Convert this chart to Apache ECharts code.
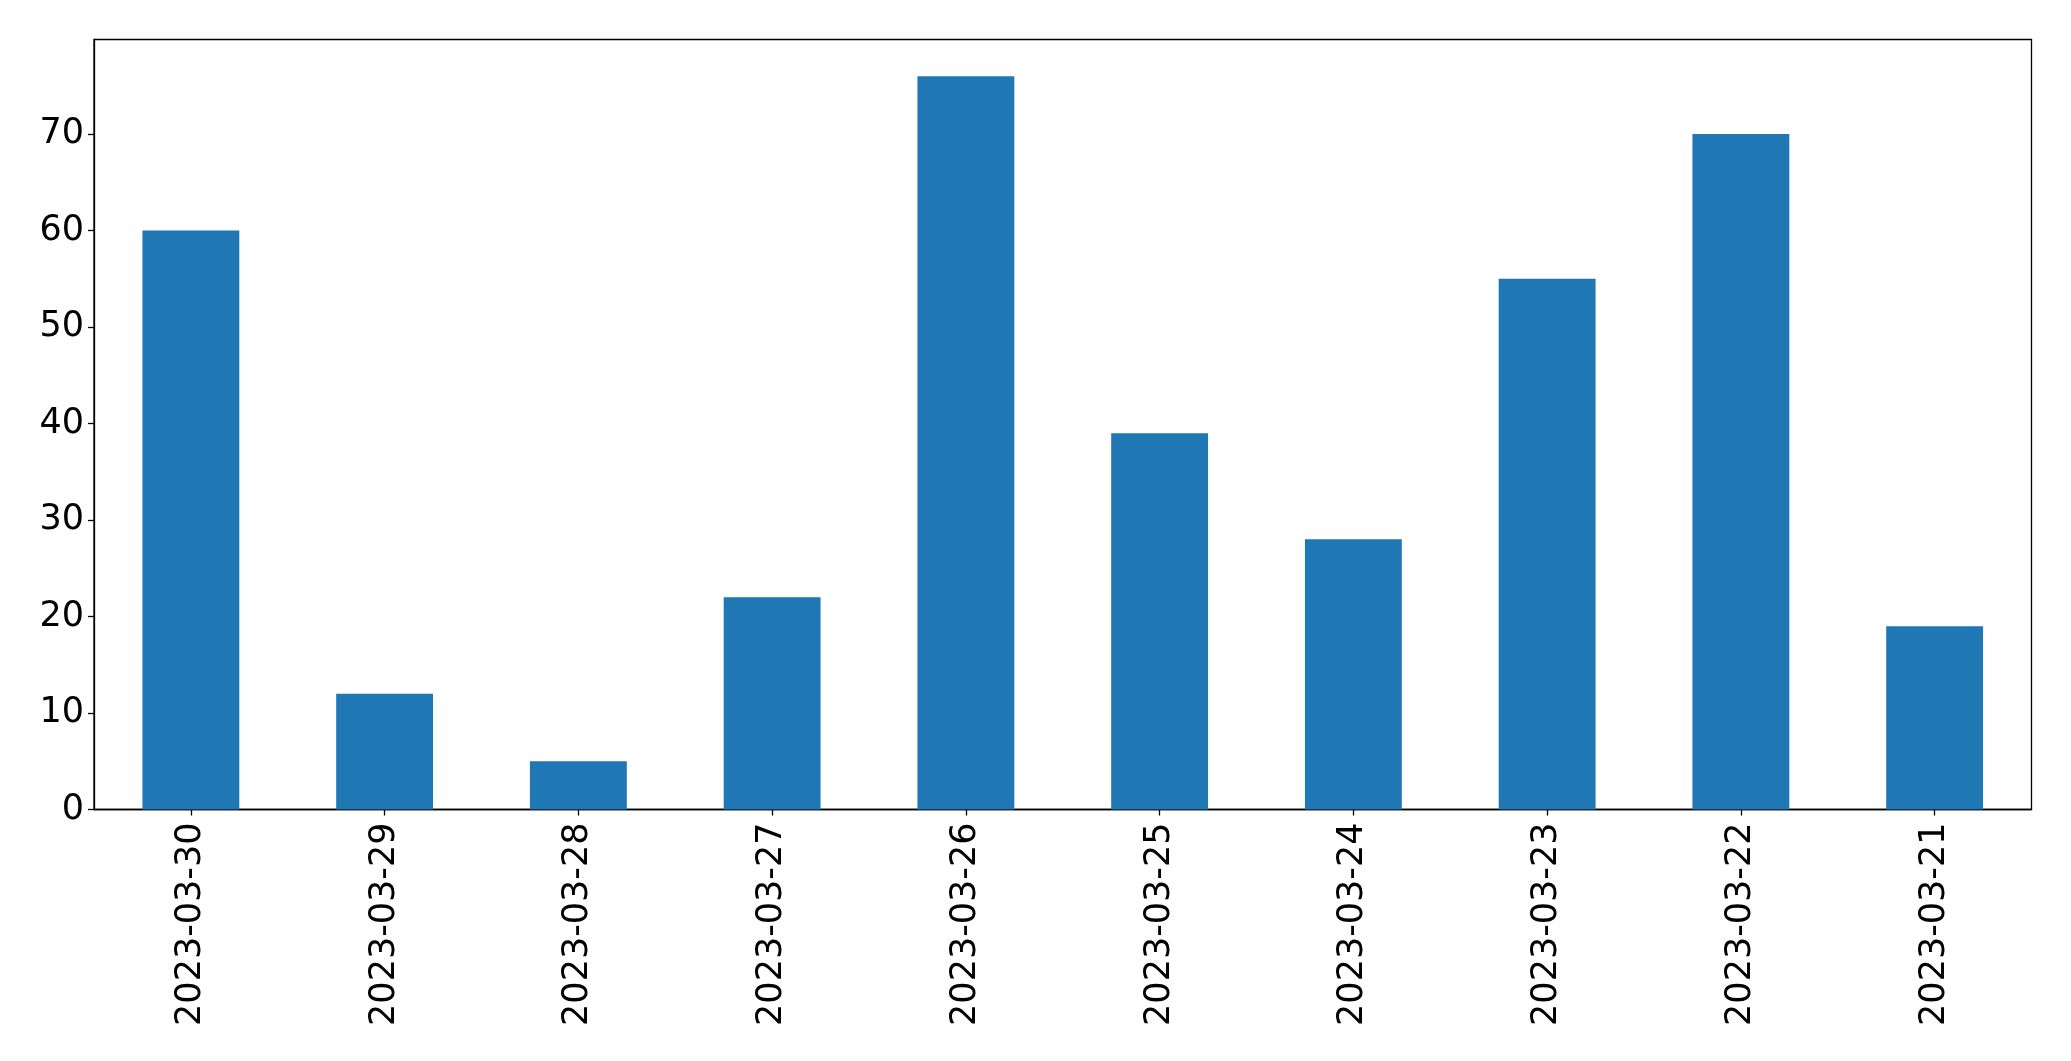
<!DOCTYPE html>
<html>
<head>
<meta charset="utf-8">
<script src="https://cdn.jsdelivr.net/npm/echarts@6/dist/echarts.min.js"></script>
<style>
html,body{margin:0;padding:0;background:#fff;}
#chart{width:2071px;height:1061px;}
</style>
</head>
<body>
<div id="chart"></div>
<script>
const categories = ['2023-03-30','2023-03-29','2023-03-28','2023-03-27','2023-03-26','2023-03-25','2023-03-24','2023-03-23','2023-03-22','2023-03-21'];
const values = [60, 12, 5, 22, 76, 39, 28, 55, 70, 19];
const yTicks = [0, 10, 20, 30, 40, 50, 60, 70];

const chart = echarts.init(document.getElementById('chart'), null, {renderer: 'canvas'});
const font = '"DejaVu Sans", sans-serif';
chart.setOption({
  animation: false,
  backgroundColor: '#ffffff',
  grid: {
    left: 94, right: 39.5, top: 39.5, bottom: 251.5,
    show: true, borderColor: '#000', borderWidth: 1.3, backgroundColor: 'transparent'
  },
  xAxis: {
    type: 'category',
    data: categories,
    axisLine: {show: true, lineStyle: {color: '#000', width: 1.3}},
    axisTick: {show: true, alignWithLabel: true, length: 6, lineStyle: {color: '#000', width: 1.3}},
    axisLabel: {rotate: 90, margin: 13, color: '#000', fontSize: 35, fontFamily: font, interval: 0},
    splitLine: {show: false}
  },
  yAxis: {
    type: 'value',
    min: 0,
    max: 79.8,
    interval: 10,
    axisLine: {show: true, lineStyle: {color: '#000', width: 1.3}},
    axisTick: {show: true, length: 6, lineStyle: {color: '#000', width: 1.3}, customValues: yTicks},
    axisLabel: {margin: 10, color: '#000', fontSize: 35, fontFamily: font, customValues: yTicks},
    splitLine: {show: false}
  },
  series: [{
    type: 'bar',
    data: values,
    barWidth: '50%',
    itemStyle: {color: '#1f77b4'}
  }]
});
</script>
</body>
</html>
